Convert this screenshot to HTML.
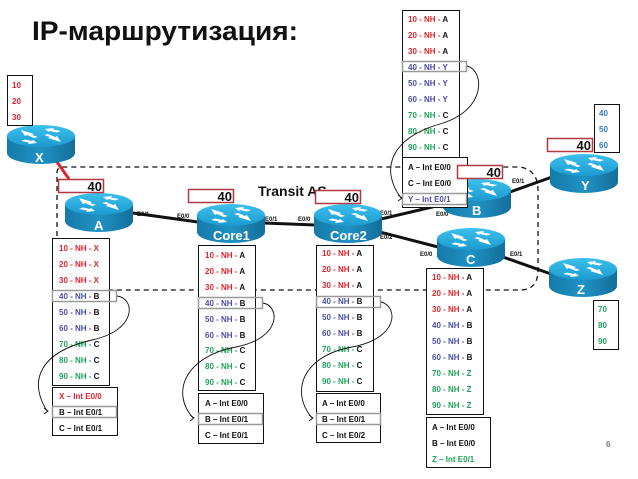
<!DOCTYPE html>
<html><head><meta charset="utf-8"><style>
html,body{margin:0;padding:0;background:#fff}
svg{display:block}
text{font-family:"Liberation Sans",Arial,sans-serif;font-weight:bold}
.t{font-size:8px}
.p{font-size:6px;font-weight:normal}
.r{fill:#e0252b}.b{fill:#4b4fa8}.g{fill:#21a35a}.k{fill:#111}.lb{fill:#2e7dbb}
.rl{font-size:13px;fill:#fff}
.f{font-size:13px;fill:#111}
</style></head><body>
<svg width="638" height="479" viewBox="0 0 638 479" xmlns="http://www.w3.org/2000/svg">
<defs>
<linearGradient id="tg" x1="0" y1="0" x2="0" y2="1"><stop offset="0" stop-color="#3cc0ec"/><stop offset="1" stop-color="#1d9ad0"/></linearGradient>
<linearGradient id="sg" x1="0" y1="0" x2="1" y2="0"><stop offset="0" stop-color="#157aa8"/><stop offset="0.5" stop-color="#1f92c4"/><stop offset="1" stop-color="#146e9a"/></linearGradient>
<symbol id="rt" viewBox="0 0 68 39" width="68" height="39">
<path d="M0,11 L0,28 A34,11 0 0 0 68,28 L68,11 Z" fill="url(#sg)"/>
<ellipse cx="34" cy="11" rx="34" ry="11" fill="url(#tg)"/>
<g fill="#fff">
<path d="M14,5 L27,9 L25,10 L31,12 L27,13 L20,10 L18,11 Z"/>
<path d="M54,17 L41,13 L43,12 L37,10 L41,9 L48,12 L50,11 Z"/>
<path d="M38,4 L47,3 L46,4.5 L54,6 L50,7.5 L43,6 L42,7 Z"/>
<path d="M30,18 L21,19 L22,17.5 L14,16 L18,14.5 L25,16 L26,15 Z"/>
</g>
</symbol>
</defs>

<text x="32" y="40" font-size="27" fill="#111" textLength="266" lengthAdjust="spacingAndGlyphs">IP-маршрутизация:</text>

<path d="M57,290 L57,173 Q57,167 63,167 L520,167 Q538,170 538,190 L538,270 Q538,290 520,290 Z" fill="none" stroke="#111" stroke-width="1.3" stroke-dasharray="5,4"/>
<text x="258" y="196" font-size="14" fill="#111">Transit AS</text>

<g stroke="#111" stroke-width="3" fill="none">
<line x1="133" y1="213" x2="198" y2="222"/>
<line x1="264" y1="223" x2="315" y2="225"/>
<line x1="381" y1="219" x2="445" y2="204"/>
<line x1="510" y1="192" x2="552" y2="177"/>
<line x1="380" y1="232" x2="438" y2="247"/>
<line x1="503" y1="257" x2="551" y2="274"/>
</g>
<line x1="57" y1="162" x2="69" y2="179" stroke="#e0252b" stroke-width="3"/>

<g class="p" fill="#111">
<text x="137" y="216">E0/1</text>
<text x="177" y="218">E0/0</text>
<text x="265" y="221">E0/1</text>
<text x="298" y="221">E0/0</text>
<text x="380" y="215">E0/1</text>
<text x="380" y="239">E0/2</text>
<text x="512" y="183">E0/1</text>
<text x="436" y="216">E0/0</text>
<text x="420" y="256">E0/0</text>
<text x="510" y="256">E0/1</text>
</g>

<use href="#rt" x="7" y="125"/><text class="rl" x="35" y="162">X</text>
<use href="#rt" x="65" y="193"/><text class="rl" x="94" y="230">A</text>
<use href="#rt" x="197" y="204"/><text class="rl" x="213" y="240">Core1</text>
<use href="#rt" x="314" y="204"/><text class="rl" x="330" y="240">Core2</text>
<use href="#rt" x="443" y="179"/><text class="rl" x="472" y="215">B</text>
<use href="#rt" x="550" y="154"/><text class="rl" x="581" y="190">Y</text>
<use href="#rt" x="437" y="228"/><text class="rl" x="466" y="264">C</text>
<use href="#rt" x="549" y="258"/><text class="rl" x="577" y="294">Z</text>

<rect x="7.5" y="75.5" width="25" height="50" fill="#fff" stroke="#111"/>
<g class="t r"><text x="12" y="88">10</text><text x="12" y="104">20</text><text x="12" y="120">30</text></g>
<rect x="594.5" y="104.5" width="25" height="48" fill="#fff" stroke="#111"/>
<g class="t lb"><text x="599" y="116">40</text><text x="599" y="132">50</text><text x="599" y="148">60</text></g>
<rect x="593.5" y="300.5" width="25" height="49" fill="#fff" stroke="#111"/>
<g class="t g"><text x="598" y="312">70</text><text x="598" y="328">80</text><text x="598" y="344">90</text></g>

<rect x="52.5" y="238.5" width="57" height="147" fill="#fff" stroke="#111"/>
<g class="t">
<text x="59" y="251" class="r">10 - NH - X</text>
<text x="59" y="267" class="r">20 - NH - X</text>
<text x="59" y="283" class="r">30 - NH - X</text>
<text x="59" y="299" class="b">40 - NH - <tspan class="k">B</tspan></text>
<text x="59" y="315" class="b">50 - NH - <tspan class="k">B</tspan></text>
<text x="59" y="331" class="b">60 - NH - <tspan class="k">B</tspan></text>
<text x="59" y="347" class="g">70 - NH - <tspan class="k">C</tspan></text>
<text x="59" y="363" class="g">80 - NH - <tspan class="k">C</tspan></text>
<text x="59" y="379" class="g">90 - NH - <tspan class="k">C</tspan></text>
</g>
<rect x="52.5" y="387.5" width="65" height="48" fill="#fff" stroke="#111"/>
<g class="t"><text x="59" y="399" class="r">X – Int E0/0</text><text x="59" y="415" class="k">B – Int E0/1</text><text x="59" y="431" class="k">C – Int E0/1</text></g>
<rect x="52.5" y="290.5" width="64" height="11" fill="none" stroke="#999" stroke-width="1.5"/>
<rect x="52.5" y="406.5" width="64" height="11" fill="none" stroke="#999" stroke-width="1.5"/>
<path d="M117,296 C135,298 138,330 92,340 C40,352 28,380 47,411" fill="none" stroke="#111" stroke-width="0.9"/>
<path d="M44,408 L48,411 L44,414" fill="none" stroke="#111" stroke-width="0.9"/>

<rect x="198.5" y="245.5" width="57" height="145" fill="#fff" stroke="#111"/>
<g class="t">
<text x="205" y="258" class="r">10 - NH - <tspan class="k">A</tspan></text>
<text x="205" y="274" class="r">20 - NH - <tspan class="k">A</tspan></text>
<text x="205" y="290" class="r">30 - NH - <tspan class="k">A</tspan></text>
<text x="205" y="306" class="b">40 - NH - <tspan class="k">B</tspan></text>
<text x="205" y="322" class="b">50 - NH - <tspan class="k">B</tspan></text>
<text x="205" y="338" class="b">60 - NH - <tspan class="k">B</tspan></text>
<text x="205" y="353" class="g">70 - NH - <tspan class="k">C</tspan></text>
<text x="205" y="369" class="g">80 - NH - <tspan class="k">C</tspan></text>
<text x="205" y="385" class="g">90 - NH - <tspan class="k">C</tspan></text>
</g>
<rect x="198.5" y="393.5" width="65" height="50" fill="#fff" stroke="#111"/>
<g class="t k"><text x="205" y="406">A – Int E0/0</text><text x="205" y="422">B – Int E0/1</text><text x="205" y="438">C – Int E0/1</text></g>
<rect x="198.5" y="297.5" width="64" height="11" fill="none" stroke="#999" stroke-width="1.5"/>
<rect x="198.5" y="413.5" width="64" height="11" fill="none" stroke="#999" stroke-width="1.5"/>
<path d="M263,303 C280,306 282,338 236,347 C186,356 170,392 193,418" fill="none" stroke="#111" stroke-width="0.9"/>
<path d="M190,415 L194,418 L190,421" fill="none" stroke="#111" stroke-width="0.9"/>

<rect x="316.5" y="245.5" width="57" height="146" fill="#fff" stroke="#111"/>
<g class="t">
<text x="322" y="256" class="r">10 - NH - <tspan class="k">A</tspan></text>
<text x="322" y="272" class="r">20 - NH - <tspan class="k">A</tspan></text>
<text x="322" y="288" class="r">30 - NH - <tspan class="k">A</tspan></text>
<text x="322" y="304" class="b">40 - NH - <tspan class="k">B</tspan></text>
<text x="322" y="320" class="b">50 - NH - <tspan class="k">B</tspan></text>
<text x="322" y="336" class="b">60 - NH - <tspan class="k">B</tspan></text>
<text x="322" y="352" class="g">70 - NH - <tspan class="k">C</tspan></text>
<text x="322" y="368" class="g">80 - NH - <tspan class="k">C</tspan></text>
<text x="322" y="384" class="g">90 - NH - <tspan class="k">C</tspan></text>
</g>
<rect x="316.5" y="393.5" width="64" height="49" fill="#fff" stroke="#111"/>
<g class="t k"><text x="322" y="406">A – Int E0/0</text><text x="322" y="422">B – Int E0/1</text><text x="322" y="438">C – Int E0/2</text></g>
<rect x="316.5" y="296.5" width="64" height="11" fill="none" stroke="#999" stroke-width="1.5"/>
<rect x="316.5" y="413.5" width="64" height="11" fill="none" stroke="#999" stroke-width="1.5"/>
<path d="M381,302 C398,306 400,338 352,347 C302,356 290,392 312,418" fill="none" stroke="#111" stroke-width="0.9"/>
<path d="M309,415 L313,418 L309,421" fill="none" stroke="#111" stroke-width="0.9"/>

<rect x="426.5" y="268.5" width="57" height="146" fill="#fff" stroke="#111"/>
<g class="t">
<text x="432" y="280" class="r">10 - NH - <tspan class="k">A</tspan></text>
<text x="432" y="296" class="r">20 - NH - <tspan class="k">A</tspan></text>
<text x="432" y="312" class="r">30 - NH - <tspan class="k">A</tspan></text>
<text x="432" y="328" class="b">40 - NH - <tspan class="k">B</tspan></text>
<text x="432" y="344" class="b">50 - NH - <tspan class="k">B</tspan></text>
<text x="432" y="360" class="b">60 - NH - <tspan class="k">B</tspan></text>
<text x="432" y="376" class="g">70 - NH - Z</text>
<text x="432" y="392" class="g">80 - NH - Z</text>
<text x="432" y="408" class="g">90 - NH - Z</text>
</g>
<rect x="426.5" y="417.5" width="64" height="50" fill="#fff" stroke="#111"/>
<g class="t"><text x="432" y="430" class="k">A – Int E0/0</text><text x="432" y="446" class="k">B – Int E0/0</text><text x="432" y="462" class="g">Z – Int E0/1</text></g>

<rect x="402.5" y="10.5" width="57" height="147" fill="#fff" stroke="#111"/>
<g class="t">
<text x="408" y="22" class="r">10 - NH - <tspan class="k">A</tspan></text>
<text x="408" y="38" class="r">20 - NH - <tspan class="k">A</tspan></text>
<text x="408" y="54" class="r">30 - NH - <tspan class="k">A</tspan></text>
<text x="408" y="70" class="b">40 - NH - Y</text>
<text x="408" y="86" class="b">50 - NH - Y</text>
<text x="408" y="102" class="b">60 - NH - Y</text>
<text x="408" y="118" class="g">70 - NH - <tspan class="k">C</tspan></text>
<text x="408" y="134" class="g">80 - NH - <tspan class="k">C</tspan></text>
<text x="408" y="150" class="g">90 - NH - <tspan class="k">C</tspan></text>
</g>
<rect x="402.5" y="157.5" width="65" height="50" fill="#fff" stroke="#111"/>
<g class="t"><text x="408" y="170" class="k">A – Int E0/0</text><text x="408" y="186" class="k">C – Int E0/0</text><text x="408" y="202" class="b">Y – Int E0/1</text></g>
<rect x="402.5" y="61.5" width="64" height="10" fill="none" stroke="#999" stroke-width="1.5"/>
<rect x="402.5" y="193.5" width="64" height="11" fill="none" stroke="#999" stroke-width="1.5"/>
<path d="M467,66 C484,70 488,110 440,124 C390,138 380,170 401,198" fill="none" stroke="#111" stroke-width="0.9"/>
<path d="M398,195 L402,198 L398,201" fill="none" stroke="#111" stroke-width="0.9"/>

<g fill="#fff" stroke="#b5373f" stroke-width="1.5">
<rect x="58.5" y="179.5" width="45" height="13"/>
<rect x="188.5" y="189.5" width="45" height="13"/>
<rect x="315.5" y="190.5" width="45" height="13"/>
<rect x="457.5" y="165.5" width="45" height="13"/>
<rect x="547.5" y="138.5" width="45" height="13"/>
</g>
<g class="f" text-anchor="end">
<text x="102" y="191">40</text>
<text x="232" y="201">40</text>
<text x="359" y="202">40</text>
<text x="501" y="177">40</text>
<text x="591" y="150">40</text>
</g>

<text x="606" y="447" font-size="8" font-weight="normal" fill="#777">6</text>
</svg>
</body></html>
